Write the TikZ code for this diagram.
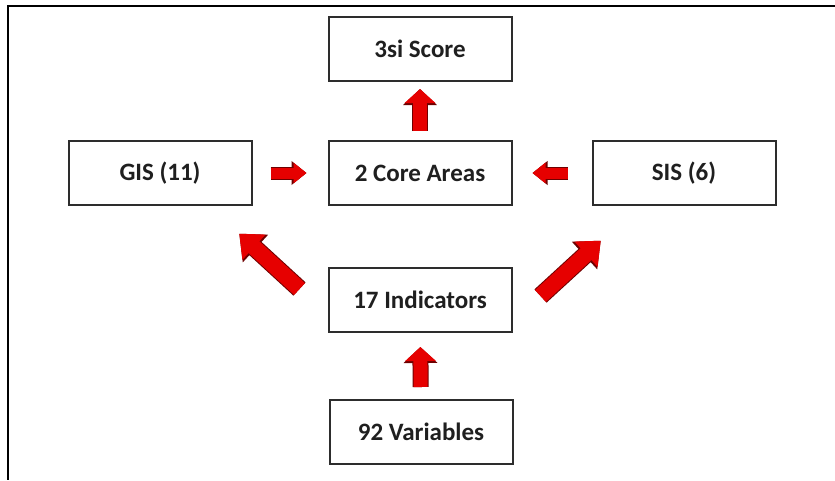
\documentclass[tikz,border=0pt]{standalone}
\usepackage{fontspec}
\setmainfont{Carlito}
\usetikzlibrary{arrows.meta}
\definecolor{arrowred}{RGB}{230,0,0}
\definecolor{edgered}{RGB}{110,0,0}
\definecolor{boxline}{RGB}{45,45,45}
\begin{document}
\begin{tikzpicture}[x=1pt,y=-1pt,
  		box/.style={draw=boxline,line width=2pt,fill=white,minimum width=183pt,minimum height=64pt,
  			font=\fontsize{25}{29}\selectfont\bfseries,text=black!88},
  		bigarrow/.style={preaction={draw=edgered,line width=16pt,-{Triangle[width=33pt,length=16pt]}},
  			draw=arrowred,line width=14pt,-{Triangle[width=30pt,length=14pt]},shorten >=1pt},
  		smallarrow/.style={preaction={draw=edgered,line width=13pt,-{Triangle[width=23pt,length=15pt]}},
  			draw=arrowred,line width=11pt,-{Triangle[width=20pt,length=13pt]},shorten >=1pt},
  		diagarrow/.style={preaction={draw=edgered,line width=18pt,-{Triangle[width=36pt,length=22pt]}},
  			draw=arrowred,line width=16pt,-{Triangle[width=33pt,length=20pt]},shorten >=1pt}]
  		\useasboundingbox (0,0) rectangle (835,480);
  		% outer frame, only top and left edges are visible
  		\draw[line width=2pt] (835,6) -- (8,6) -- (8,480);
  		\node[box] (score) at (420,49) {3si Score};
  		\node[box] (gis) at (160,173) {GIS (11)};
  		\node[box] (core) at (420,173) {2 Core Areas};
  		\node[box] (sis) at (684,173) {SIS (6)};
  		\node[box] (indicators) at (420,300) {17 Indicators};
  		\node[box] (variables) at (421,432) {92 Variables};
  		\draw[bigarrow,shorten <=9pt,shorten >=7pt] (core) -- (score);
  		\draw[bigarrow,shorten <=12pt,shorten >=14pt] (variables) -- (indicators);
  		\draw[smallarrow,shorten <=18pt,shorten >=21pt] (gis) -- (core);
  		\draw[smallarrow,shorten <=24pt,shorten >=20pt] (sis) -- (core);
  		\draw[diagarrow] ([xshift=-28pt,yshift=-22pt]indicators.north west) -- ([xshift=-14pt,yshift=-27pt]gis.south east);
  		\draw[diagarrow] ([xshift=28pt,yshift=-29pt]indicators.north east) -- ([xshift=10pt,yshift=-34pt]sis.south west);
\end{tikzpicture}
\end{document}
